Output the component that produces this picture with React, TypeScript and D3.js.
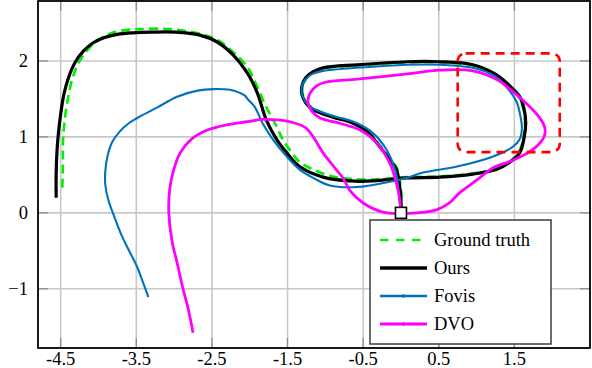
import React from 'react';
import { scaleLinear, line, curveCatmullRom } from 'd3';

// trajectory data (x, y in metres)
const groundTruth: [number, number][] = [
  [0, 0], [0.01, 0.18], [-0.01, 0.38], [-0.05, 0.58], [-0.14, 0.71], [-0.27, 0.88], [-0.44, 1.08],
  [-0.67, 1.21], [-0.89, 1.27], [-1.15, 1.37], [-1.25, 1.45], [-1.3, 1.56], [-1.3, 1.67], [-1.25, 1.77],
  [-1.15, 1.85], [-1.02, 1.9], [-0.57, 1.94], [0.08, 1.98], [0.51, 1.98], [0.95, 1.94], [1.26, 1.81],
  [1.43, 1.67], [1.56, 1.52], [1.62, 1.36], [1.64, 1.18], [1.62, 1.0], [1.56, 0.8], [1.43, 0.67],
  [1.26, 0.58], [0.95, 0.52], [0.51, 0.48], [0.08, 0.47], [-0.37, 0.44], [-0.68, 0.45], [-0.94, 0.49],
  [-1.16, 0.57], [-1.34, 0.67], [-1.47, 0.83], [-1.56, 0.96], [-1.64, 1.13], [-1.78, 1.39], [-1.9, 1.66],
  [-2.03, 1.92], [-2.22, 2.12], [-2.43, 2.28], [-2.66, 2.36], [-3.05, 2.42], [-3.45, 2.42], [-3.7, 2.4],
  [-3.85, 2.36], [-4.0, 2.28], [-4.14, 2.15], [-4.26, 1.98], [-4.35, 1.75], [-4.41, 1.47], [-4.45, 1.2],
  [-4.47, 0.92], [-4.47, 0.63], [-4.48, 0.3],
];

const ours: [number, number][] = [
  [0, 0], [0, 0.17], [-0.02, 0.37], [-0.06, 0.57], [-0.15, 0.7], [-0.28, 0.87], [-0.45, 1.07],
  [-0.68, 1.2], [-0.9, 1.26], [-1.16, 1.36], [-1.26, 1.45], [-1.31, 1.56], [-1.31, 1.67], [-1.26, 1.78],
  [-1.16, 1.86], [-1.03, 1.91], [-0.58, 1.95], [0.08, 1.99], [0.51, 1.99], [0.95, 1.95], [1.26, 1.82],
  [1.43, 1.68], [1.57, 1.53], [1.63, 1.36], [1.65, 1.18], [1.63, 1.0], [1.57, 0.79], [1.43, 0.66],
  [1.26, 0.57], [0.95, 0.51], [0.51, 0.47], [0.08, 0.46], [-0.37, 0.42], [-0.68, 0.42], [-1.03, 0.47],
  [-1.34, 0.61], [-1.51, 0.79], [-1.64, 0.96], [-1.78, 1.22], [-1.9, 1.58], [-2.03, 1.84], [-2.22, 2.08],
  [-2.43, 2.25], [-2.66, 2.34], [-2.98, 2.38], [-3.31, 2.38], [-3.55, 2.37], [-3.75, 2.35], [-3.92, 2.31],
  [-4.07, 2.24], [-4.2, 2.13], [-4.31, 1.98], [-4.4, 1.77], [-4.46, 1.55], [-4.5, 1.3], [-4.53, 1.05],
  [-4.55, 0.79], [-4.56, 0.5], [-4.56, 0.2],
];

const fovis: [number, number][] = [
  [0, 0], [-0.02, 0.17], [-0.04, 0.37], [-0.07, 0.54], [-0.19, 0.83], [-0.37, 1.05], [-0.58, 1.18],
  [-0.94, 1.29], [-1.17, 1.38], [-1.27, 1.47], [-1.31, 1.57], [-1.31, 1.67], [-1.26, 1.76], [-1.17, 1.83],
  [-1.03, 1.87], [-0.58, 1.91], [0.08, 1.95], [0.51, 1.95], [0.95, 1.91], [1.24, 1.8], [1.41, 1.64],
  [1.53, 1.46], [1.58, 1.27], [1.6, 1.12], [1.57, 0.97], [1.48, 0.87], [1.21, 0.74], [0.74, 0.61],
  [0.29, 0.53], [0.11, 0.47], [-0.15, 0.41], [-0.58, 0.34], [-0.94, 0.36], [-1.16, 0.46], [-1.34, 0.57],
  [-1.51, 0.74], [-1.69, 0.96], [-1.83, 1.18], [-1.93, 1.39], [-2.02, 1.49], [-2.06, 1.54], [-2.13, 1.58],
  [-2.26, 1.62], [-2.48, 1.63], [-2.69, 1.61], [-2.96, 1.53], [-3.22, 1.39], [-3.45, 1.27], [-3.6, 1.18],
  [-3.72, 1.07], [-3.82, 0.93], [-3.88, 0.75], [-3.91, 0.55], [-3.91, 0.37], [-3.87, 0.17], [-3.81, 0.0],
  [-3.71, -0.26], [-3.62, -0.45], [-3.49, -0.71], [-3.41, -0.92], [-3.34, -1.11],
];

const dvo: [number, number][] = [
  [0, 0], [-0.02, 0.2], [-0.06, 0.39], [-0.15, 0.66], [-0.32, 0.92], [-0.54, 1.09], [-0.81, 1.18],
  [-1.07, 1.25], [-1.18, 1.34], [-1.23, 1.46], [-1.2, 1.58], [-1.12, 1.67], [-1.0, 1.72], [-0.58, 1.76],
  [0.08, 1.83], [0.51, 1.88], [0.95, 1.87], [1.28, 1.75], [1.5, 1.58], [1.68, 1.42], [1.82, 1.27],
  [1.9, 1.13], [1.9, 1.02], [1.82, 0.9], [1.66, 0.78], [1.45, 0.68], [1.23, 0.6], [1.0, 0.43],
  [0.77, 0.26], [0.64, 0.13], [0.47, 0.04], [0.21, 0.0], [-0.02, -0.01], [-0.24, 0.01], [-0.5, 0.13],
  [-0.68, 0.3], [-0.76, 0.45], [-0.88, 0.6], [-1.03, 0.79], [-1.16, 1.0], [-1.26, 1.12], [-1.43, 1.19],
  [-1.6, 1.22], [-1.83, 1.23], [-2.03, 1.2], [-2.3, 1.16], [-2.56, 1.09], [-2.77, 0.97], [-2.92, 0.79],
  [-3.01, 0.55], [-3.06, 0.3], [-3.07, 0.0], [-3.03, -0.36], [-2.96, -0.66], [-2.88, -1.01],
  [-2.81, -1.28], [-2.75, -1.58],
];

const xTicks = [-4.5, -3.5, -2.5, -1.5, -0.5, 0.5, 1.5];
const xTickLabels = ['-4.5', '-3.5', '-2.5', '-1.5', '-0.5', '0.5', '1.5'];
const yTicks = [-1, 0, 1, 2];
const yTickLabels = ['\u22121', '0', '1', '2'];

const legendNames = ['Ground truth', 'Ours', 'Fovis', 'DVO'];
const zoomBox = { x0: 0.75, x1: 2.1, y0: 0.8, y1: 2.1 };
const startPoint: [number, number] = [0, 0];

export default function App() {
  const W = 592;
  const H = 368;
  const left = 38, right = 590, top = 1, bottom = 348;

  const x = scaleLinear().domain([-4.8, 2.5]).range([left, right]);
  const y = scaleLinear().domain([-1.78, 2.79]).range([bottom, top]);

  const path = line<[number, number]>()
    .x(d => x(d[0]))
    .y(d => y(d[1]))
    .curve(curveCatmullRom.alpha(0.5));

  const font = '"Liberation Serif", "Times New Roman", serif';
  const tickLen = 10;

  const series = [
    { data: groundTruth, color: '#00ee00', width: 2.6, dash: '9 5', dot: false },
    { data: ours, color: '#000000', width: 3.2, dash: undefined, dot: false },
    { data: fovis, color: '#0072bd', width: 2.1, dash: undefined, dot: true },
    { data: dvo, color: '#ff00ff', width: 2.8, dash: undefined, dot: true },
  ];

  const lg = { x: 370, y: 220, w: 181, h: 124 };
  const rowY = [240, 268, 296, 324];

  return (
    <svg width={W} height={H} style={{ position: 'absolute', left: 0, top: 0, background: '#fff' }}>
      <defs>
        <clipPath id="plot">
          <rect x={left} y={top} width={right - left} height={bottom - top} />
        </clipPath>
      </defs>
      <rect x={0} y={0} width={W} height={H} fill="#fff" />

      {/* grid */}
      {xTicks.map(t => (
        <line key={'gx' + t} x1={x(t)} x2={x(t)} y1={top} y2={bottom} stroke="#c8c8c8" strokeWidth={1.6} />
      ))}
      {yTicks.map(t => (
        <line key={'gy' + t} x1={left} x2={right} y1={y(t)} y2={y(t)} stroke="#c8c8c8" strokeWidth={1.6} />
      ))}
      {/* tick marks */}
      {xTicks.map(t => (
        <g key={'tx' + t} stroke="#8a8a8a" strokeWidth={1.2}>
          <line x1={x(t)} x2={x(t)} y1={bottom} y2={bottom - tickLen} />
          <line x1={x(t)} x2={x(t)} y1={top} y2={top + tickLen} />
        </g>
      ))}
      {yTicks.map(t => (
        <g key={'ty' + t} stroke="#8a8a8a" strokeWidth={1.2}>
          <line x1={left} x2={left + tickLen} y1={y(t)} y2={y(t)} />
          <line x1={right} x2={right - tickLen} y1={y(t)} y2={y(t)} />
        </g>
      ))}

      {/* trajectories */}
      <g clipPath="url(#plot)" fill="none" strokeLinejoin="round" strokeLinecap="butt">
        {series.map((s, i) => (
          <path key={i} d={path(s.data) || ''} stroke={s.color} strokeWidth={s.width} strokeDasharray={s.dash} />
        ))}
        <rect
          x={x(zoomBox.x0)} y={y(zoomBox.y1)}
          width={x(zoomBox.x1) - x(zoomBox.x0)} height={y(zoomBox.y0) - y(zoomBox.y1)}
          rx={8} ry={8} fill="none" stroke="#ff0000" strokeWidth={2.6} strokeDasharray="9 6"
        />
      </g>

      {/* start marker */}
      <rect x={x(startPoint[0]) - 5.5} y={y(startPoint[1]) - 5.5} width={11} height={11}
        fill="#fff" stroke="#000" strokeWidth={1.6} />

      {/* frame */}
      <rect x={left} y={top} width={right - left} height={bottom - top} fill="none" stroke="#000" strokeWidth={1.8} />

      {/* tick labels */}
      {xTicks.map((t, i) => (
        <text key={'lx' + t} x={x(t)} y={365} textAnchor="middle" fontFamily={font} fontSize={18.5} fill="#000">
          {xTickLabels[i]}
        </text>
      ))}
      {yTicks.map((t, i) => (
        <text key={'ly' + t} x={28} y={y(t) + 6.5} textAnchor="end" fontFamily={font} fontSize={18.5} fill="#000">
          {yTickLabels[i]}
        </text>
      ))}

      {/* legend */}
      <rect x={lg.x} y={lg.y} width={lg.w} height={lg.h} fill="#fff" stroke="#3c3c3c" strokeWidth={1.5} />
      {series.map((s, i) => (
        <g key={'lg' + i}>
          <line x1={380} x2={427} y1={rowY[i]} y2={rowY[i]} stroke={s.color}
            strokeWidth={s.dash ? 2.6 : s.width + 0.4} strokeDasharray={s.dash ? '8.5 7.5' : undefined} />
          {s.dot && <circle cx={403.5} cy={rowY[i]} r={1.8} fill={s.color} />}
          <text x={434} y={rowY[i] + 6} fontFamily={font} fontSize={18.5} fill="#000">{legendNames[i]}</text>
        </g>
      ))}
    </svg>
  );
}
